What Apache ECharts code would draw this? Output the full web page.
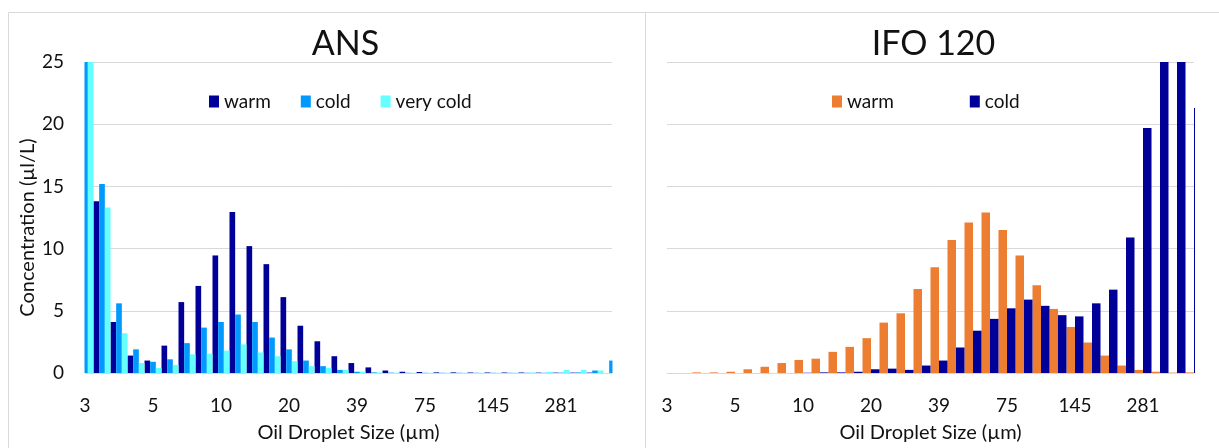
<!DOCTYPE html>
<html>
<head>
<meta charset="utf-8">
<title>Oil droplet size distributions</title>
<script src="https://cdn.jsdelivr.net/npm/echarts@6/dist/echarts.min.js"></script>
<style>
  html, body { margin: 0; padding: 0; background: #fff; }
  #chart { width: 1219px; height: 448px; }
</style>
</head>
<body>
<div id="chart"></div>
<script>
// droplet size bins (µm, rounded), labels shown every 4th bin
const sizeBins = [3, 3, 4, 4, 5, 6, 7, 9, 10, 12, 14, 17, 20, 23, 28, 33,
  39, 46, 54, 63, 75, 88, 104, 123, 145, 171, 202, 239, 281, 332, 392, 463];

// ANS concentrations (µl/L)
const ansWarm = [26, 13.8, 4.1, 1.4, 1.0, 2.2, 5.7, 7.0, 9.45, 12.95, 10.2, 8.75, 6.1, 3.8, 2.55, 1.35,
  0.8, 0.45, 0.2, 0.1, 0.08, 0.05, 0.05, 0.04, 0.04, 0.04, 0.04, 0.03, 0.03, 0.03, 0.03, 0];
const ansCold = [30, 15.2, 5.6, 1.9, 0.9, 1.1, 2.4, 3.65, 4.1, 4.7, 4.1, 2.85, 1.9, 1.0, 0.55, 0.25,
  0.1, 0.05, 0.03, 0.02, 0.02, 0.02, 0.02, 0.02, 0.02, 0.02, 0.02, 0.02, 0.03, 0.05, 0.2, 1.0];
const ansVeryCold = [30, 13.3, 3.2, 0.8, 0.4, 0.65, 1.5, 1.55, 1.8, 2.3, 1.65, 1.35, 0.95, 0.55, 0.4, 0.25,
  0.1, 0.05, 0.03, 0.02, 0.02, 0.02, 0.02, 0.02, 0.02, 0.03, 0.04, 0.1, 0.25, 0.25, 0.2, 0.1];

// IFO 120 concentrations (µl/L)
const ifoWarm = [0, 0, 0.05, 0.05, 0.1, 0.3, 0.5, 0.8, 1.05, 1.15, 1.7, 2.1, 2.8, 4.05, 4.8, 6.75,
  8.5, 10.7, 12.1, 12.9, 11.5, 9.45, 7.05, 5.15, 3.7, 2.45, 1.4, 0.6, 0.25, 0.1, 0.03, 0.05];
const ifoCold = [0, 0, 0, 0, 0, 0, 0, 0, 0.02, 0.05, 0.05, 0.1, 0.3, 0.35, 0.25, 0.6,
  1.0, 2.05, 3.4, 4.35, 5.2, 5.9, 5.4, 4.65, 4.55, 5.6, 6.7, 10.9, 19.7, 27, 27, 21.3];

const yTicks = { min: 0, max: 25, interval: 5 };

const NAVY = '#000099';
const BLUE = '#0099FF';
const CYAN = '#66FFFF';
const ORANGE = '#ED7D31';
const GRID_LINE = '#D9D9D9';
const FONT = 'Lato, "Liberation Sans", sans-serif';
const TEXT = '#111';

const PLOT_TOP = 62;
const PLOT_H = 314;
const PLOT_W = 527;
const LEFT_X = 85;
const RIGHT_X = 667;

function xAxisFor(gridIndex) {
  return {
    type: 'category',
    gridIndex,
    data: sizeBins,
    boundaryGap: false,
    axisLine: { lineStyle: { color: GRID_LINE, width: 1 } },
    axisTick: { show: false },
    axisLabel: { interval: 3, color: TEXT, fontSize: 19, fontFamily: FONT, margin: 23 },
    name: 'Oil Droplet Size (µm)',
    nameLocation: 'middle',
    nameGap: 50,
    nameTextStyle: { color: TEXT, fontSize: 20, fontFamily: FONT },
  };
}

function yAxisFor(gridIndex, showLabels) {
  return {
    type: 'value',
    gridIndex,
    min: yTicks.min,
    max: yTicks.max,
    interval: yTicks.interval,
    axisLine: { show: false },
    axisTick: { show: false },
    splitLine: { lineStyle: { color: GRID_LINE, width: 1 } },
    axisLabel: { show: showLabels, color: TEXT, fontSize: 19, fontFamily: FONT, margin: 21 },
    name: showLabels ? 'Concentration (µl/L)' : '',
    nameLocation: 'middle',
    nameGap: 47,
    nameTextStyle: { color: TEXT, fontSize: 20, fontFamily: FONT, padding: [0, 20, 0, 0] },
  };
}

function barSeries(name, data, color, axisIndex) {
  return {
    name,
    type: 'bar',
    data,
    xAxisIndex: axisIndex,
    yAxisIndex: axisIndex,
    barGap: '0%',
    barCategoryGap: '0%',
    clip: true,
    itemStyle: { color },
    emphasis: { disabled: true },
  };
}

// edge bins sit on the plot border (bars half outside); hide the overflow
function edgeMask(x, width) {
  return {
    type: 'rect', z: 10, silent: true,
    shape: { x, y: PLOT_TOP - 8, width, height: PLOT_H + 8 },
    style: { fill: '#fff' },
  };
}

const stripPrefix = (name) => name.split(' ').slice(1).join(' ');

const chart = echarts.init(document.getElementById('chart'), null, { renderer: 'canvas' });
chart.setOption({
  animation: false,
  backgroundColor: '#fff',
  textStyle: { fontFamily: FONT },
  title: [
    { text: 'ANS', left: LEFT_X + PLOT_W / 2 - 8, top: 22, textAlign: 'center',
      textStyle: { fontSize: 34, fontWeight: 'normal', color: TEXT, fontFamily: FONT } },
    { text: 'IFO 120', left: RIGHT_X + PLOT_W / 2 - 2, top: 22, textAlign: 'center',
      textStyle: { fontSize: 34, fontWeight: 'normal', color: TEXT, fontFamily: FONT } },
  ],
  legend: [
    {
      data: ['ANS warm', 'ANS cold', 'ANS very cold'],
      left: 204, top: 87, itemWidth: 10, itemHeight: 12, itemGap: 30,
      icon: 'rect', formatter: stripPrefix, selectedMode: false,
      textStyle: { fontSize: 19, color: TEXT, fontFamily: FONT },
    },
    {
      data: ['IFO warm', 'IFO cold'],
      left: 827, top: 87, itemWidth: 10, itemHeight: 12, itemGap: 76,
      icon: 'rect', formatter: stripPrefix, selectedMode: false,
      textStyle: { fontSize: 19, color: TEXT, fontFamily: FONT },
    },
  ],
  grid: [
    { left: LEFT_X, top: PLOT_TOP, width: PLOT_W, height: PLOT_H },
    { left: RIGHT_X, top: PLOT_TOP, width: PLOT_W, height: PLOT_H },
  ],
  xAxis: [xAxisFor(0), xAxisFor(1)],
  yAxis: [yAxisFor(0, true), yAxisFor(1, false)],
  series: [
    barSeries('ANS warm', ansWarm, NAVY, 0),
    barSeries('ANS cold', ansCold, BLUE, 0),
    barSeries('ANS very cold', ansVeryCold, CYAN, 0),
    barSeries('IFO warm', ifoWarm, ORANGE, 1),
    barSeries('IFO cold', ifoCold, NAVY, 1),
  ],
  graphic: [
    edgeMask(LEFT_X - 15, 14.5),
    edgeMask(LEFT_X + PLOT_W + 0.5, 14),
    edgeMask(RIGHT_X - 15, 14.5),
    edgeMask(RIGHT_X + PLOT_W + 1, 14),
    { type: 'rect', shape: { x: 8.5, y: 12.5, width: 637, height: 440 },
      style: { fill: 'none', stroke: GRID_LINE, lineWidth: 1 }, silent: true, z: 11 },
    { type: 'rect', shape: { x: 645.5, y: 12.5, width: 580, height: 440 },
      style: { fill: 'none', stroke: GRID_LINE, lineWidth: 1 }, silent: true, z: 11 },
  ],
});
</script>
</body>
</html>
